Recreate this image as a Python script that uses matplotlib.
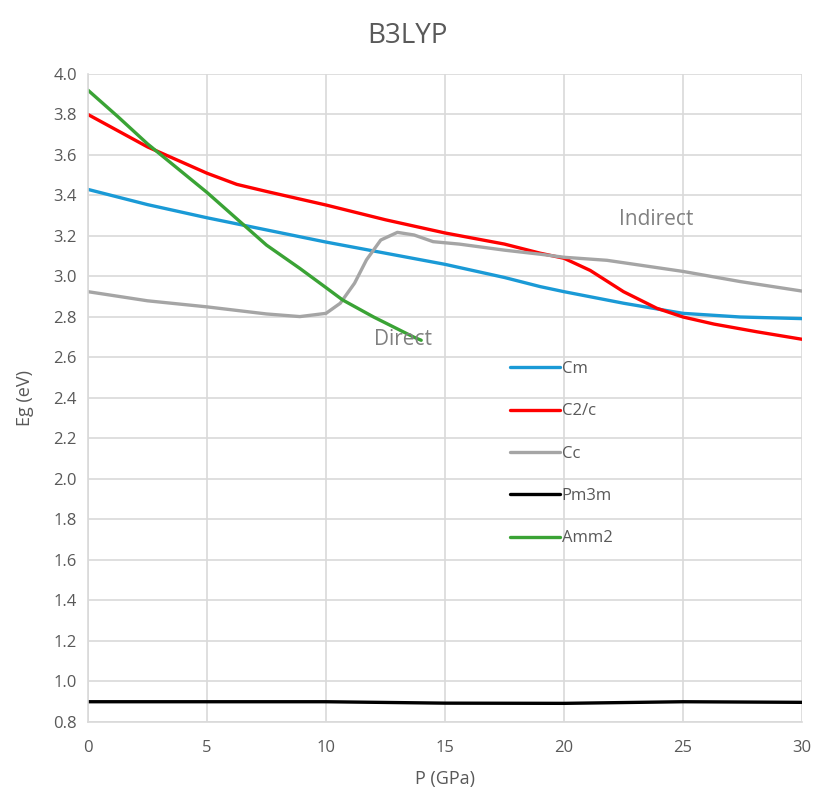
import matplotlib.pyplot as plt

plt.rcParams['font.family'] = ['Open Sans', 'DejaVu Sans']

# Data (P in GPa, Eg in eV)
p_cm = [0, 2.5, 5, 7.5, 10, 12.5, 15, 17.5, 19, 20, 22.5, 23.9, 25, 27.4, 30]
eg_cm = [3.43, 3.355, 3.29, 3.23, 3.17, 3.115, 3.06, 2.995, 2.95, 2.925, 2.868, 2.84, 2.818, 2.80, 2.792]

p_c2c = [0, 2.5, 5, 6.25, 7.5, 10, 12.5, 15, 17.5, 19, 20, 21.1, 22.5, 23.9, 25, 26.3, 28.1, 30]
eg_c2c = [3.80, 3.64, 3.51, 3.455, 3.42, 3.353, 3.28, 3.215, 3.16, 3.115, 3.09, 3.03, 2.925, 2.843,
          2.80, 2.765, 2.727, 2.69]

p_cc = [0, 2.5, 5, 7.5, 8.9, 10, 10.6, 11.2, 11.7, 12.3, 13.0, 13.7, 14.5, 15.6, 17.5, 19, 20,
        21.8, 25, 27.4, 30]
eg_cc = [2.925, 2.88, 2.85, 2.815, 2.802, 2.818, 2.868, 2.967, 3.082, 3.18, 3.218, 3.205, 3.172,
         3.16, 3.13, 3.11, 3.095, 3.08, 3.025, 2.975, 2.928]

p_pm3m = [0, 5, 10, 15, 20, 25, 30]
eg_pm3m = [0.90, 0.90, 0.90, 0.893, 0.892, 0.90, 0.897]

p_amm2 = [0, 1.25, 2.5, 5, 6.25, 7.5, 8.9, 10, 10.7, 12, 13.7, 14]
eg_amm2 = [3.92, 3.79, 3.655, 3.415, 3.285, 3.155, 3.04, 2.945, 2.884, 2.80, 2.70, 2.685]

fig = plt.figure(figsize=(8.14, 7.94), dpi=100)
ax = fig.add_axes([0.1081, 0.0907, 0.8772, 0.8161])

lw = 2.4
style = dict(lw=lw, solid_joinstyle='round', solid_capstyle='round')
ax.plot(p_cm, eg_cm, color='#1a9ad6', label='Cm', **style)
ax.plot(p_c2c, eg_c2c, color='#ff0000', label='C2/c', **style)
ax.plot(p_cc, eg_cc, color='#a5a5a5', label='Cc', **style)
ax.plot(p_pm3m, eg_pm3m, color='#000000', label='Pm3m', **style)
ax.plot(p_amm2, eg_amm2, color='#3aa335', label='Amm2', **style)

ax.set_xlim(0, 30)
ax.set_ylim(0.8, 4.0)
ax.set_xticks(range(0, 31, 5))
ax.set_yticks([0.8 + 0.2 * i for i in range(17)])
ax.set_yticklabels([f'{0.8 + 0.2 * i:.1f}' for i in range(17)])
ax.grid(True, color='#d9d9d9', lw=1.2)
ax.set_axisbelow(True)
for s in ['top', 'right']:
    ax.spines[s].set_visible(False)
for s in ['left', 'bottom']:
    ax.spines[s].set_color('#d9d9d9')
    ax.spines[s].set_linewidth(1.2)
ax.tick_params(length=0, labelsize=12, colors='#595959')
ax.tick_params(axis='x', pad=13)
ax.tick_params(axis='y', pad=8)

ax.set_xlabel('P (GPa)', fontsize=13, color='#595959', labelpad=10)
ax.set_ylabel('Eg (eV)', fontsize=13, color='#595959', labelpad=14)
fig.suptitle('B3LYP', fontsize=20, color='#595959', y=0.972)

ax.text(22.3, 3.28, 'Indirect', fontsize=15, color='#808080', va='center')
ax.text(12.0, 2.69, 'Direct', fontsize=15, color='#808080', va='center')

leg = ax.legend(loc='upper left', bbox_to_anchor=(0.57, 0.58), frameon=False,
                fontsize=12, handlelength=3.0, handletextpad=0.1,
                labelspacing=1.58, labelcolor='#595959')

fig.savefig('out.png', dpi=100)
